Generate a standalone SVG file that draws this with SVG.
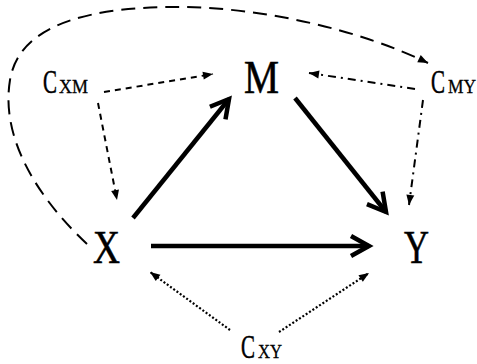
<svg xmlns="http://www.w3.org/2000/svg" width="477" height="364" viewBox="0 0 477 364">
<style>
.lbl{font-family:"Liberation Serif","DejaVu Serif",serif;fill:#000;stroke:#000;stroke-width:0.6}
.big{font-size:46px}
.c{font-size:33px;stroke-width:0.5}
.sub{font-size:18px;stroke-width:0.3}
.solid{stroke:#000;stroke-width:4.5;fill:none;marker-end:url(#open)}
.thin{stroke:#000;stroke-width:2;fill:none;marker-end:url(#tri)}
.dash{stroke-dasharray:6 5}
.dashdot{stroke-dasharray:8 5 2 5}
.dot{stroke-dasharray:2 2;stroke-width:2.2}
.long{stroke:#000;stroke-width:2;fill:none;stroke-dasharray:14 8;marker-end:url(#tri)}
</style>
<defs>
<marker id="open" markerUnits="userSpaceOnUse" markerWidth="26" markerHeight="26" refX="21" refY="12" orient="auto" overflow="visible">
<path d="M3,2 L21,12 L3,22" stroke="#000" stroke-width="4.5" fill="none" stroke-linejoin="miter"/>
</marker>
<marker id="tri" markerUnits="userSpaceOnUse" markerWidth="12" markerHeight="10" refX="10" refY="4" orient="auto" overflow="visible">
<path d="M0,0 L10,4 L0,8 z" fill="#000"/>
</marker>
</defs>
<g id="connectors">
<line class="solid" x1="133" y1="218" x2="229" y2="99"/>
<line class="solid" x1="295" y1="98" x2="386" y2="212"/>
<line class="solid" x1="151" y1="246" x2="369" y2="246"/>
<line class="thin dash" x1="104" y1="92" x2="213" y2="74"/>
<line class="thin dash" x1="98" y1="103" x2="117" y2="200"/>
<line class="thin dashdot" x1="415" y1="89" x2="309" y2="73"/>
<line class="thin dashdot" x1="423" y1="100" x2="409" y2="205"/>
<line class="thin dot" x1="230" y1="330" x2="150" y2="272"/>
<line class="thin dot" x1="279" y1="332" x2="369" y2="273"/>
<path class="long" d="M87,244 C40,200 0,140 10,80 C20,20 100,8 170,7 C260,6 360,30 428,63"/>
</g>
<g id="M"><text class="lbl big" x="244" y="93" textLength="35" lengthAdjust="spacingAndGlyphs">M</text></g>
<g id="X"><text class="lbl big" x="93" y="263" textLength="27" lengthAdjust="spacingAndGlyphs">X</text></g>
<g id="Y"><text class="lbl big" x="404" y="263" textLength="25" lengthAdjust="spacingAndGlyphs">Y</text></g>
<g id="CXM"><text class="lbl c" y="93"><tspan x="43" textLength="14" lengthAdjust="spacingAndGlyphs">C</tspan><tspan class="sub" x="59" textLength="29" lengthAdjust="spacingAndGlyphs">XM</tspan></text></g>
<g id="CMY"><text class="lbl c" y="93"><tspan x="431" textLength="14" lengthAdjust="spacingAndGlyphs">C</tspan><tspan class="sub" x="448" textLength="28" lengthAdjust="spacingAndGlyphs">MY</tspan></text></g>
<g id="CXY"><text class="lbl c" y="358"><tspan x="241" textLength="14" lengthAdjust="spacingAndGlyphs">C</tspan><tspan class="sub" x="258" textLength="24" lengthAdjust="spacingAndGlyphs">XY</tspan></text></g>
</svg>
